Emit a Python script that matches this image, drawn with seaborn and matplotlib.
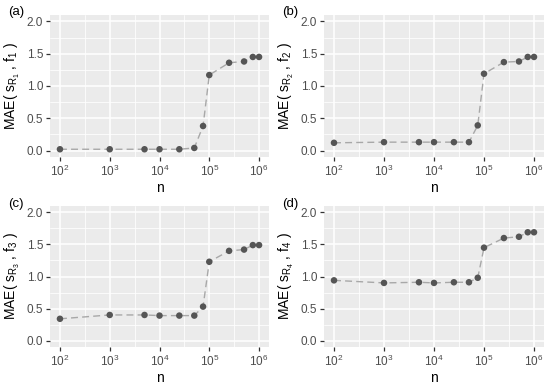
import numpy as np
import pandas as pd
import matplotlib
matplotlib.use("Agg")
import matplotlib.pyplot as plt
import seaborn as sns
from matplotlib.ticker import FixedLocator, FixedFormatter

n_values = [1e2, 1e3, 5e3, 1e4, 2.5e4, 5e4, 7.5e4, 1e5, 2.5e5, 5e5, 7.5e5, 1e6]
mae_a = [0.02, 0.02, 0.02, 0.02, 0.02, 0.04, 0.38, 1.17, 1.36, 1.38, 1.45, 1.45]
mae_b = [0.12, 0.13, 0.13, 0.13, 0.13, 0.13, 0.39, 1.19, 1.37, 1.38, 1.45, 1.45]
mae_c = [0.34, 0.40, 0.40, 0.39, 0.39, 0.39, 0.53, 1.23, 1.40, 1.42, 1.49, 1.49]
mae_d = [0.94, 0.90, 0.91, 0.90, 0.91, 0.91, 0.98, 1.45, 1.60, 1.62, 1.69, 1.69]
panel_tags = ["(a)", "(b)", "(c)", "(d)"]
y_labels = [r"MAE( $s_{R_1}$ , $f_1$ )", r"MAE( $s_{R_2}$ , $f_2$ )",
            r"MAE( $s_{R_3}$ , $f_3$ )", r"MAE( $s_{R_4}$ , $f_4$ )"]
x_ticks = [1e2, 1e3, 1e4, 1e5, 1e6]
x_tick_labels = [r"$10^{2}$", r"$10^{3}$", r"$10^{4}$", r"$10^{5}$", r"$10^{6}$"]
y_ticks = [0.0, 0.5, 1.0, 1.5, 2.0]

sns.set_theme(style="darkgrid")
plt.rcParams["font.family"] = ["Liberation Sans", "DejaVu Sans"]
plt.rcParams["mathtext.fontset"] = "custom"
plt.rcParams["mathtext.rm"] = "Liberation Sans"
plt.rcParams["mathtext.it"] = "Liberation Sans"
plt.rcParams["mathtext.bf"] = "Liberation Sans:bold"

W, H = 550, 387
fig = plt.figure(figsize=(W / 100, H / 100), dpi=100)
fig.patch.set_facecolor("white")

# panel pixel boxes: left, top, right, bottom
boxes = [(50, 15, 269, 157), (324, 15, 544, 157),
         (50, 206, 269, 347), (324, 206, 544, 347)]
series = [mae_a, mae_b, mae_c, mae_d]

for i, (box, vals) in enumerate(zip(boxes, series)):
    l, t, r, b = box
    ax = fig.add_axes([l / W, (H - b) / H, (r - l) / W, (b - t) / H])
    ax.set_facecolor("#EBEBEB")
    df = pd.DataFrame({"n": n_values, "mae": vals})
    sns.lineplot(data=df, x="n", y="mae", ax=ax, color="#A8A8A8",
                 linewidth=1.0, linestyle=(0, (5, 3)), zorder=3)
    sns.scatterplot(data=df, x="n", y="mae", ax=ax, color="#555555",
                    s=22, edgecolor="none", zorder=4)
    ax.set_xscale("log")
    lo, hi = 2 - 0.2, 6 + 0.2
    ax.set_xlim(10 ** lo, 10 ** hi)
    ax.set_ylim(-0.1, 2.1)
    ax.xaxis.set_major_locator(FixedLocator(x_ticks))
    ax.xaxis.set_major_formatter(FixedFormatter(x_tick_labels))
    ax.xaxis.set_minor_locator(FixedLocator([10 ** (k + 0.5) for k in range(2, 6)]))
    ax.xaxis.set_minor_formatter(FixedFormatter([""] * 4))
    ax.yaxis.set_major_locator(FixedLocator(y_ticks))
    ax.set_yticklabels([f"{v:.1f}" for v in y_ticks])
    ax.yaxis.set_minor_locator(FixedLocator([0.25, 0.75, 1.25, 1.75]))
    ax.grid(which="major", color="white", linewidth=1.1)
    ax.grid(which="minor", color="white", linewidth=0.55)
    ax.set_axisbelow(True)
    for s in ax.spines.values():
        s.set_visible(False)
    ax.tick_params(axis="both", which="major", length=3, width=0.9,
                   color="#333333", labelcolor="#4D4D4D", labelsize=8.5,
                   pad=2, direction="out", bottom=True, left=True)
    ax.tick_params(axis="both", which="minor", length=0)
    ax.set_xlabel("n", fontsize=10, color="black", labelpad=1)
    ax.set_ylabel(y_labels[i], fontsize=10, color="black", labelpad=3)
    fig.text((l - 42) / W, 1 - (t - 2.5) / H, panel_tags[i], fontsize=9.5,
             ha="left", va="center", color="black")

fig.savefig("out.png", dpi=100, facecolor="white")
